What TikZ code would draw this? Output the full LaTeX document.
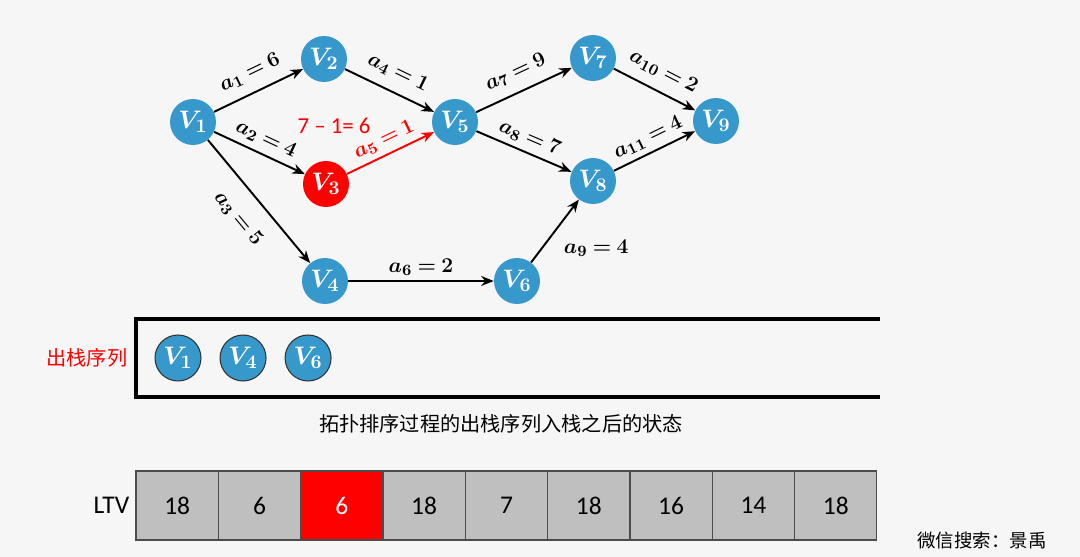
\documentclass[tikz,border=0pt]{standalone}
\usepackage{amsmath}
\usepackage{fontspec}
\usetikzlibrary{arrows.meta, positioning}
\newfontfamily\cjk{Noto Sans CJK SC}
\newfontfamily\calibri{Carlito}
\definecolor{vertexBlue}{RGB}{55, 152, 204}
\definecolor{pathRed}{RGB}{255, 0, 0}
\definecolor{cellGray}{RGB}{191, 191, 191}
\definecolor{paperGray}{RGB}{246, 246, 246}
\newcommand{\vname}[1]{$\boldsymbol{V_{#1}}$}
\newcommand{\wname}[2]{$\boldsymbol{a_{#1}\mskip4mu{=}\mskip4mu#2}$}

\begin{document}
\begin{tikzpicture}[x=0.02cm, y=-0.02cm,
    vertex/.style={circle, fill=vertexBlue, minimum size=0.92cm, inner sep=0pt, text=white, font=\fontsize{15}{17}\selectfont},
    link/.style={-{Stealth[length=2.5mm, width=2mm]}, line width=1.1pt},
    weight/.style={sloped, above, font=\fontsize{12.5}{15}\selectfont},
    cell/.style={draw=black!70, line width=0.6pt, minimum width=1.6466cm, minimum height=1.38cm, inner sep=0pt, font=\calibri\fontsize{14.5}{17}\selectfont}]
        % page
        \useasboundingbox (0,0) rectangle (1080,557);
        \fill[paperGray] (0,0) rectangle (1080,557);

        % vertices
        \node[vertex] (v1) at (193,122) {\vname{1}};
        \node[vertex] (v2) at (324,59) {\vname{2}};
        \node[vertex, fill=pathRed] (v3) at (326,184) {\vname{3}};
        \node[vertex] (v4) at (325,281) {\vname{4}};
        \node[vertex] (v5) at (455,122) {\vname{5}};
        \node[vertex] (v6) at (517,281) {\vname{6}};
        \node[vertex] (v7) at (593,58) {\vname{7}};
        \node[vertex] (v8) at (593,181) {\vname{8}};
        \node[vertex] (v9) at (716,121) {\vname{9}};

        % activities
        \draw[link] (v1) -- (v2) node[weight, midway, inner sep=6pt] {\wname{1}{6}};
        \draw[link] (v1) -- (v3) node[weight, midway, inner sep=3.5pt] {\wname{2}{4}};
        \draw[link] (v1) -- (v4) node[weight, midway, below, inner sep=10pt] {\wname{3}{5}};
        \draw[link] (v2) -- (v5) node[weight, midway, inner sep=6pt] {\wname{4}{1}};
        \draw[link, pathRed] (v3) -- (v5) node[weight, midway, inner sep=3pt] {\wname{5}{1}};
        \draw[link] (v4) -- (v6) node[weight, midway, inner sep=2.5pt] {\wname{6}{2}};
        \draw[link] (v5) -- (v7) node[weight, midway, inner sep=6pt] {\wname{7}{9}};
        \draw[link] (v5) -- (v8) node[weight, midway, inner sep=3pt] {\wname{8}{7}};
        \draw[link] (v6) -- (v8) node[pos=0.23, right=0.3cm, font=\fontsize{12.5}{15}\selectfont] {\wname{9}{4}};
        \draw[link] (v7) -- (v9) node[weight, midway, inner sep=6pt] {\wname{10}{2}};
        \draw[link] (v8) -- (v9) node[weight, midway, inner sep=3pt] {\wname{11}{4}};

        \node[text=pathRed, font=\calibri\fontsize{13}{15}\selectfont] (slack) at (334,126) {7 – 1= 6};

        % pop sequence, box open on the right
        \draw[line width=1.9pt] (880,319) -- (136,319) -- (136,397) -- (880,397);
        \node[text=pathRed, font=\cjk\fontsize{11.5}{14}\selectfont] (poplab) at (87,358) {出栈序列};
        \node[vertex, draw=black!80, line width=0.6pt] (s1) at (178,358) {\vname{1}};
        \node[vertex, draw=black!80, line width=0.6pt, right=0.36cm of s1] (s4) {\vname{4}};
        \node[vertex, draw=black!80, line width=0.6pt, right=0.36cm of s4] (s6) {\vname{6}};

        \node[font=\cjk\fontsize{11.5}{14}\selectfont] (caption) at (501,424) {拓扑排序过程的出栈序列入栈之后的状态};

        % LTV row
        \foreach \val/\bg/\fg [count=\i] in {18/cellGray/black, 6/cellGray/black, 6/pathRed/white, 18/cellGray/black, 7/cellGray/black, 18/cellGray/black, 16/cellGray/black, 14/cellGray/black, 18/cellGray/black}
            \node[cell, fill=\bg, text=\fg] (c\i) at ({136+(\i-0.5)*82.33}, 505.5) {\val};
        \node[font=\calibri\fontsize{14.5}{17}\selectfont, left=0pt of c1] (ltv) {LTV};

        \node[font=\cjk\fontsize{10.5}{13}\selectfont] (mark) at (982,541) {微信搜索：景禹};
    \end{tikzpicture}
\end{document}
